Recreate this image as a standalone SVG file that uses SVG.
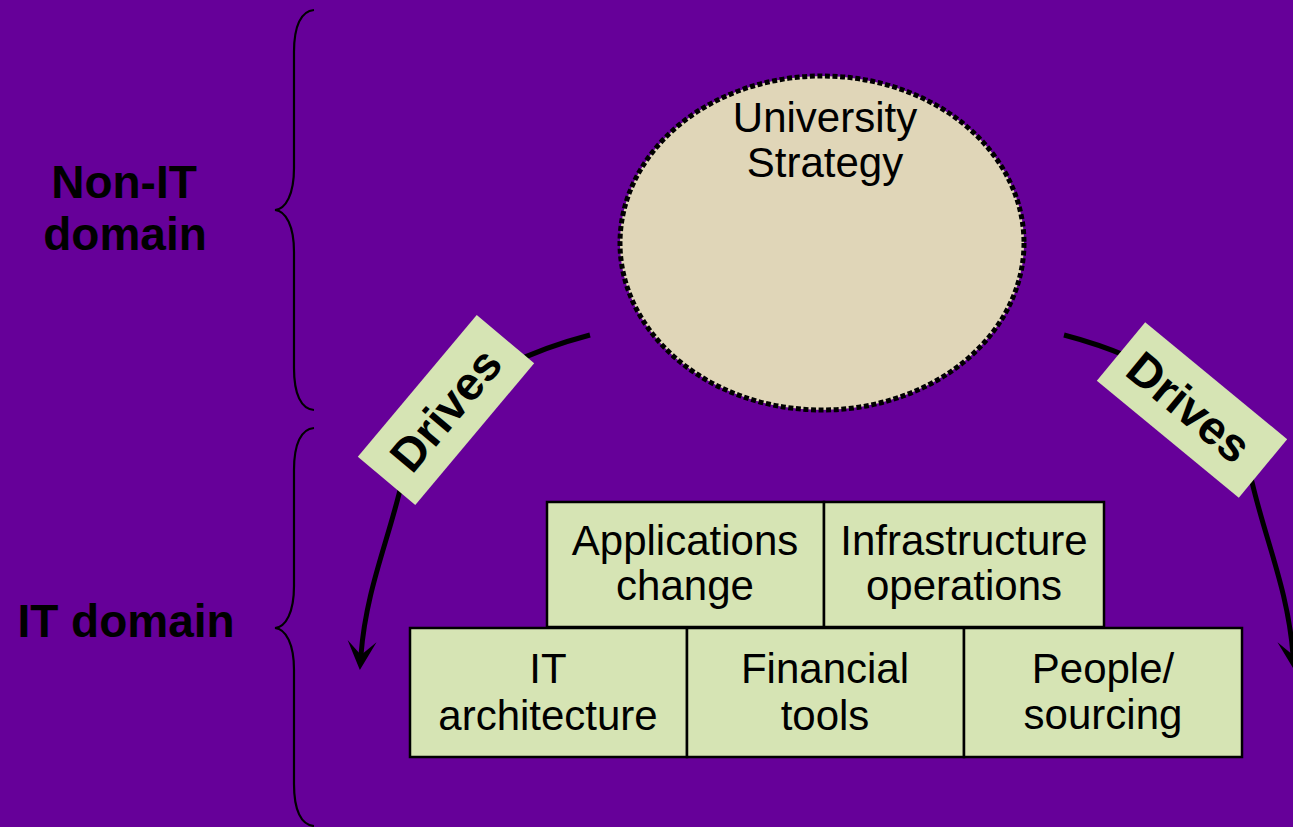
<svg xmlns="http://www.w3.org/2000/svg" width="1293" height="827" viewBox="0 0 1293 827">
  <style>
    .bg { fill: #660099; }
    .box { fill: #D6E4B4; stroke: #000; stroke-width: 2.5; }
    .lbl { font-family: "Liberation Sans", Arial, sans-serif; font-size: 42px; fill: #000; text-anchor: middle; }
    .side { font-family: "Liberation Sans", Arial, sans-serif; font-size: 46px; font-weight: bold; fill: #000; text-anchor: middle; }
    .tag { fill: #D6E4B4; }
    .tagtxt { font-family: "Liberation Sans", Arial, sans-serif; font-size: 47px; font-weight: bold; fill: #000; text-anchor: middle; }
    .brace { fill: none; stroke: #000; stroke-width: 2.2; }
    .flow { fill: none; stroke: #000; stroke-width: 5; }
  </style>
  <defs>
    <marker id="head" markerUnits="userSpaceOnUse" markerWidth="40" markerHeight="40" viewBox="-20 -20 40 40" refX="0" refY="0" orient="auto" overflow="visible">
      <path d="M15,0 L-14,-14.5 L0,0 L-14,14.5 Z" fill="#000"/>
    </marker>
  </defs>

  <rect class="bg" x="0" y="0" width="1293" height="827"/>

  <!-- domain labels -->
  <g id="non-it-domain">
    <text class="side" x="124" y="198">Non-IT</text>
    <text class="side" x="125" y="250">domain</text>
  </g>
  <g id="it-domain">
    <text class="side" x="126" y="637">IT domain</text>
  </g>

  <!-- braces -->
  <g id="braces">
    <path class="brace" d="M314,10 C301,11 294,26 294,52 L294,168 C294,194 286,209 275,210 C286,211 294,226 294,252 L294,368 C294,394 301,409 314,410"/>
    <path class="brace" d="M314,428 C301,429 294,444 294,470 L294,586 C294,612 286,627 275,628 C286,629 294,644 294,670 L294,784 C294,810 301,825 314,826"/>
  </g>

  <!-- strategy circle with square-dot outline -->
  <g id="university-strategy">
    <ellipse cx="822" cy="243" rx="202" ry="167" fill="#E0D6B8" stroke="#000" stroke-width="5" stroke-dasharray="5 2.6"/>
    <text class="lbl" x="825" y="132">University</text>
    <text class="lbl" x="825" y="177">Strategy</text>
  </g>

  <!-- connectors -->
  <g id="connectors">
    <path class="flow" d="M590,335 C510,356 420,400 402,482 C388,542 366,590 361,655" marker-end="url(#head)"/>
    <path class="flow" d="M1064,335 C1144,356 1234,400 1252,482 C1266,542 1288,590 1293,655" marker-end="url(#head)"/>
  </g>

  <!-- connector labels -->
  <g id="drives-left" transform="translate(446,410) rotate(-50)">
    <rect class="tag" x="-92.5" y="-37.5" width="185" height="75"/>
    <text class="tagtxt" x="0" y="16">Drives</text>
  </g>
  <g id="drives-right" transform="translate(1192,410) rotate(39.5)">
    <rect class="tag" x="-92" y="-38" width="184" height="76"/>
    <text class="tagtxt" x="-4" y="16">Drives</text>
  </g>

  <!-- IT building blocks -->
  <g id="applications-change">
    <rect class="box" x="547" y="502" width="277" height="125"/>
    <text class="lbl" x="685" y="555">Applications</text>
    <text class="lbl" x="685" y="600">change</text>
  </g>
  <g id="infrastructure-operations">
    <rect class="box" x="824" y="502" width="280" height="125"/>
    <text class="lbl" x="964" y="555">Infrastructure</text>
    <text class="lbl" x="964" y="600">operations</text>
  </g>
  <g id="it-architecture">
    <rect class="box" x="410" y="628" width="277" height="129"/>
    <text class="lbl" x="548" y="683">IT</text>
    <text class="lbl" x="548" y="730">architecture</text>
  </g>
  <g id="financial-tools">
    <rect class="box" x="687" y="628" width="277" height="129"/>
    <text class="lbl" x="825" y="683">Financial</text>
    <text class="lbl" x="825" y="730">tools</text>
  </g>
  <g id="people-sourcing">
    <rect class="box" x="964" y="628" width="278" height="129"/>
    <text class="lbl" x="1103" y="683">People/</text>
    <text class="lbl" x="1103" y="729">sourcing</text>
  </g>
</svg>
